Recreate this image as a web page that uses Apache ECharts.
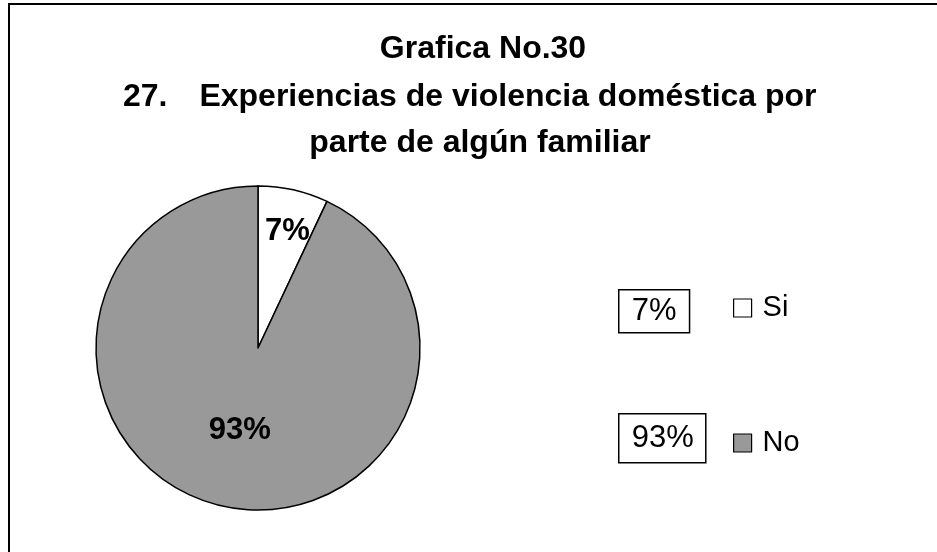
<!DOCTYPE html>
<html>
<head>
<meta charset="utf-8">
<script src="https://cdn.jsdelivr.net/npm/echarts@6/dist/echarts.min.js"></script>
<style>
  html, body { margin: 0; padding: 0; background: #fff; }
  #chart { width: 937px; height: 552px; }
</style>
</head>
<body>
<div id="chart"></div>
<script>
  // datos de la grafica
  var categorias = ['Si', 'No'];
  var valores = [7, 93];
  var titulo = ['Grafica No.30', 'Experiencias de violencia doméstica por', 'parte de algún familiar'];
  var numero = '27.';

  var colores = ['#ffffff', '#999999'];
  var fuente = '"Liberation Sans", Arial, sans-serif';
  var total = valores[0] + valores[1];

  var datos = [];
  for (var i = 0; i < categorias.length; i++) {
    datos.push({
      name: categorias[i],
      value: valores[i],
      itemStyle: { color: colores[i] }
    });
  }
  // la etiqueta del 7% va mas afuera
  datos[0].label = { offset: [11, -35] };

  // cajas con porcentaje a la izquierda de la leyenda
  var cajas = [
    { left: 618, top: 289, padding: [6, 13, 6, 13] },
    { left: 618, top: 413, padding: [9, 12, 9, 13] }
  ];
  var graficos = [{
    type: 'rect',
    shape: { x: 9, y: 4, width: 1000, height: 1000 },
    style: { fill: 'none', stroke: '#000', lineWidth: 2 },
    silent: true
  }];
  for (i = 0; i < cajas.length; i++) {
    graficos.push({
      type: 'text',
      left: cajas[i].left,
      top: cajas[i].top,
      style: {
        text: Math.round(valores[i] / total * 100) + '%',
        font: '31px ' + fuente,
        fill: '#000',
        borderColor: '#000',
        borderWidth: 1.5,
        padding: cajas[i].padding
      }
    });
  }

  var estiloTitulo = { fontFamily: fuente, fontSize: 32, fontWeight: 'bold', color: '#000' };

  var chart = echarts.init(document.getElementById('chart'));
  chart.setOption({
    backgroundColor: '#fff',
    animation: false,
    title: [{
      text: titulo[0],
      left: 483, top: 33, textAlign: 'center', padding: 0,
      textStyle: estiloTitulo
    }, {
      text: numero,
      left: 123, top: 81, padding: 0,
      textStyle: estiloTitulo
    }, {
      text: titulo[1],
      left: 508, top: 81, textAlign: 'center', padding: 0,
      textStyle: estiloTitulo
    }, {
      text: titulo[2],
      left: 480, top: 127, textAlign: 'center', padding: 0,
      textStyle: estiloTitulo
    }],
    legend: {
      orient: 'vertical',
      left: 733,
      top: 292,
      padding: 0,
      itemWidth: 18,
      itemHeight: 18,
      itemGap: 103,
      icon: 'rect',
      data: categorias,
      itemStyle: { borderColor: '#000', borderWidth: 1.2 },
      textStyle: { fontFamily: fuente, fontSize: 29, lineHeight: 30, color: '#000', padding: [2, 0, 0, 6] }
    },
    graphic: graficos,
    series: [{
      type: 'pie',
      center: [258, 348],
      radius: 162,
      startAngle: 90,
      clockwise: true,
      silent: true,
      data: datos,
      itemStyle: { borderColor: '#000', borderWidth: 1.5 },
      label: {
        position: 'inside',
        formatter: '{d}%',
        fontFamily: fuente,
        fontSize: 31,
        fontWeight: 'bold',
        color: '#000'
      },
      labelLine: { show: false }
    }]
  });
</script>
</body>
</html>
